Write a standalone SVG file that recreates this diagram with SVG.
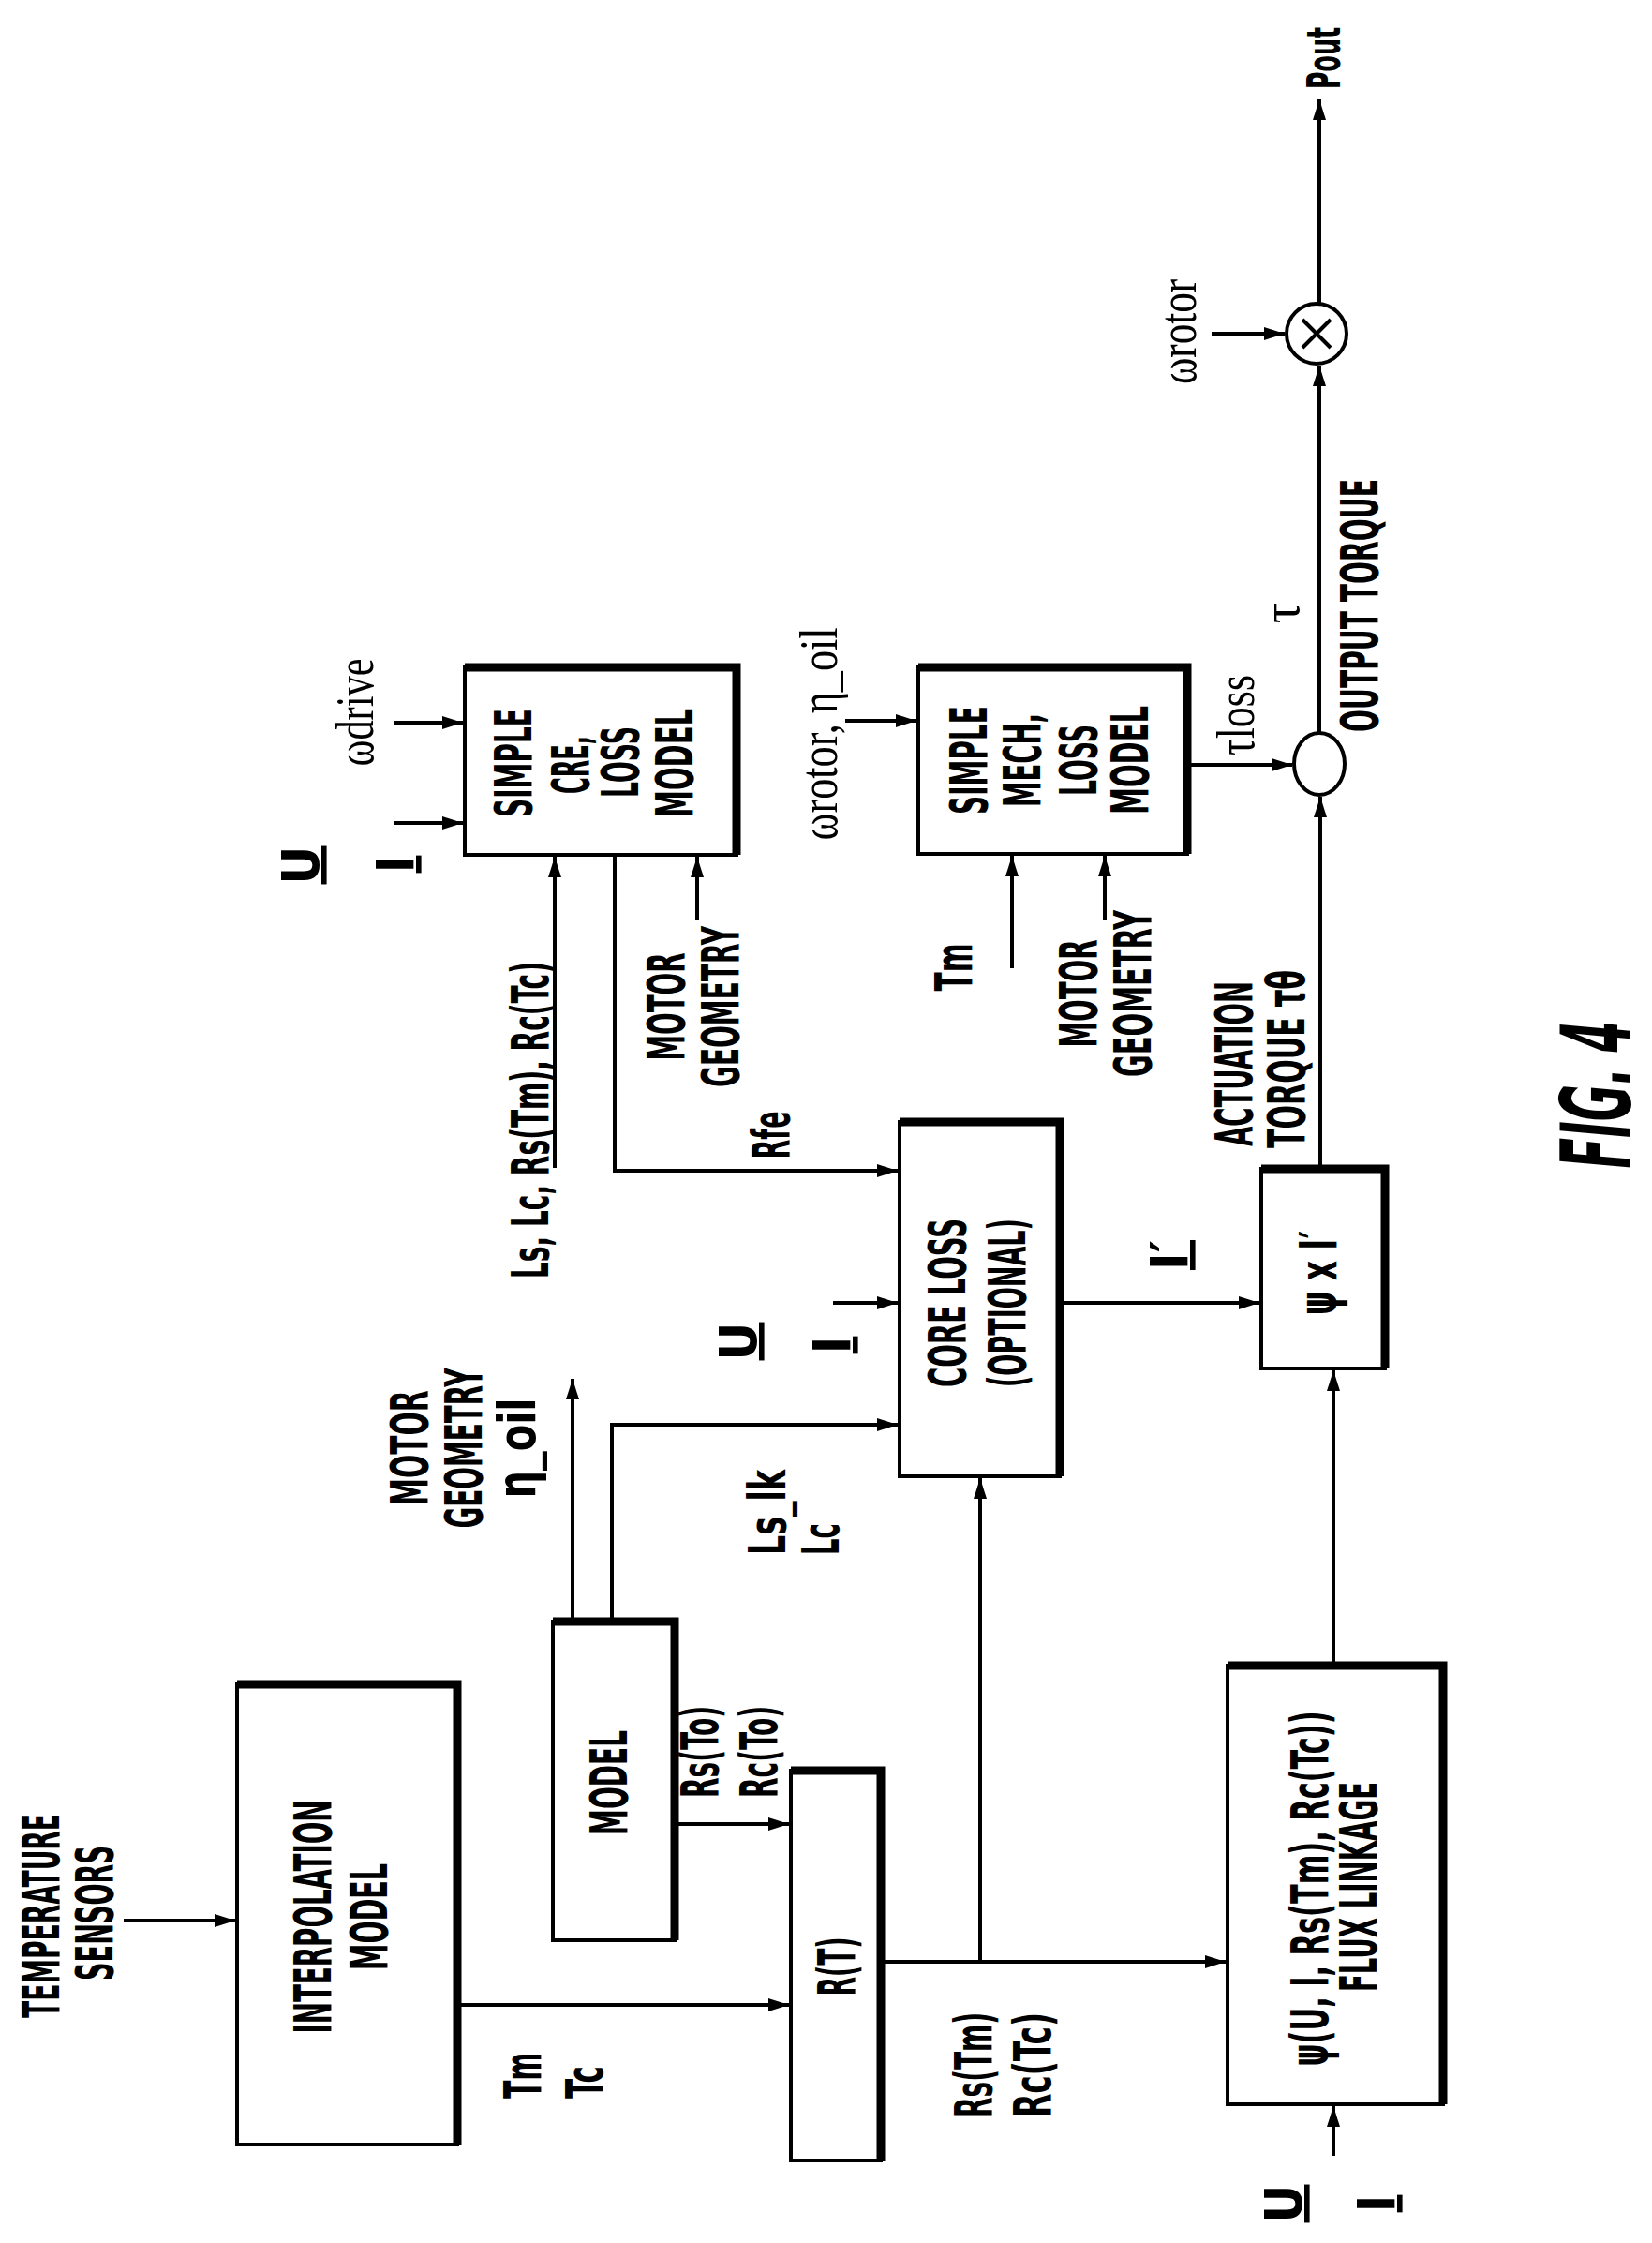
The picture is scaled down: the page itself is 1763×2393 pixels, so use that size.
<svg xmlns="http://www.w3.org/2000/svg" width="1763" height="2393" viewBox="0 0 1763 2393">
<style>
.b{fill:#fff;stroke:#000;stroke-width:4}
.t{stroke:#000;stroke-width:9;fill:none}
.c{stroke:#000;stroke-width:4;fill:none}
text{font-family:"Liberation Sans Narrow","DejaVu Sans Condensed","Liberation Sans",sans-serif;font-weight:bold;font-size:56px;fill:#000;text-anchor:middle}
.r{font-weight:normal;font-family:"Liberation Serif","DejaVu Serif",serif}
.s{text-anchor:start}
.u{text-decoration:underline}
</style>
<defs>
<marker id="a" markerUnits="userSpaceOnUse" markerWidth="24" markerHeight="16" refX="22" refY="8" orient="auto"><path d="M0,1 L22,8 L0,15 Z" fill="#000"/></marker>
</defs>
<rect width="1763" height="2393" fill="#fff"/>

<g id="connectors" class="c" marker-end="url(#a)">
<path d="M132,2049 H251"/>
<path d="M488,2139 H842"/>
<path d="M720,1946 H842"/>
<path d="M611,1730 V1471"/>
<path d="M653,1730 V1520 H958"/>
<path d="M940,2093 H1308"/>
<path d="M1046,2093 V1577"/>
<path d="M1423,2300 V2247"/>
<path d="M1423,1777 V1462"/>
<path d="M592,1246 V914"/>
<path d="M656,912 V1249 H958"/>
<path d="M744,982 V914"/>
<path d="M421,771 H494"/>
<path d="M421,878 H494"/>
<path d="M889,1390 H958"/>
<path d="M1131,1390 H1344"/>
<path d="M1409,1247 V850"/>
<path d="M902,769 H978"/>
<path d="M1080,1033 V913"/>
<path d="M1179,982 V913"/>
<path d="M1267,816 H1379"/>
<path d="M1408,782 V390"/>
<path d="M1293,356 H1371"/>
<path d="M1408,324 V106"/>
</g>

<g id="interp"><rect class="b" x="253" y="1797" width="235" height="491"/><path class="t" d="M253,1797 H488 V2288"/>
<text transform="translate(353,2045) rotate(-90)" textLength="249" lengthAdjust="spacingAndGlyphs">INTERPOLATION</text>
<text transform="translate(413,2045) rotate(-90)" textLength="114" lengthAdjust="spacingAndGlyphs">MODEL</text></g>

<g id="model"><rect class="b" x="590" y="1730" width="130" height="340"/><path class="t" d="M590,1730 H720 V2070"/>
<text transform="translate(669,1902) rotate(-90)" textLength="112" lengthAdjust="spacingAndGlyphs">MODEL</text></g>

<g id="rt"><rect class="b" x="844" y="1889" width="96" height="416"/><path class="t" d="M844,1889 H940 V2305"/>
<text transform="translate(912,2098) rotate(-90)" textLength="63" lengthAdjust="spacingAndGlyphs">R(T)</text></g>

<g id="cre"><rect class="b" x="496" y="712" width="290" height="200"/><path class="t" d="M496,712 H786 V912"/>
<text transform="translate(567,814) rotate(-90)" textLength="116" lengthAdjust="spacingAndGlyphs">SIMPLE</text>
<text transform="translate(628,816) rotate(-90)" textLength="62" lengthAdjust="spacingAndGlyphs">CRE,</text>
<text transform="translate(681,813) rotate(-90)" textLength="76" lengthAdjust="spacingAndGlyphs">LOSS</text>
<text transform="translate(739,814) rotate(-90)" textLength="116" lengthAdjust="spacingAndGlyphs">MODEL</text></g>

<g id="mech"><rect class="b" x="980" y="712" width="287" height="199"/><path class="t" d="M980,712 H1267 V911"/>
<text transform="translate(1053,811) rotate(-90)" textLength="116" lengthAdjust="spacingAndGlyphs">SIMPLE</text>
<text transform="translate(1110,811) rotate(-90)" textLength="100" lengthAdjust="spacingAndGlyphs">MECH,</text>
<text transform="translate(1170,811) rotate(-90)" textLength="76" lengthAdjust="spacingAndGlyphs">LOSS</text>
<text transform="translate(1225,811) rotate(-90)" textLength="116" lengthAdjust="spacingAndGlyphs">MODEL</text></g>

<g id="coreloss"><rect class="b" x="960" y="1197" width="171" height="378"/><path class="t" d="M960,1197 H1131 V1575"/>
<text transform="translate(1030,1390) rotate(-90)" textLength="180" lengthAdjust="spacingAndGlyphs">CORE LOSS</text>
<text transform="translate(1094,1390) rotate(-90)" textLength="180" lengthAdjust="spacingAndGlyphs">(OPTIONAL)</text></g>

<g id="psixi"><rect class="b" x="1346" y="1247" width="132" height="213"/><path class="t" d="M1346,1247 H1478 V1460"/>
<text transform="translate(1426,1358) rotate(-90)" textLength="90" lengthAdjust="spacingAndGlyphs">ψ x I′</text></g>

<g id="flux"><rect class="b" x="1310" y="1777" width="230" height="468"/><path class="t" d="M1310,1777 H1540 V2245"/>
<text transform="translate(1417,2015) rotate(-90)" textLength="379" lengthAdjust="spacingAndGlyphs">ψ(U, I, Rs(Tm), Rc(Tc))</text>
<text transform="translate(1469,2013) rotate(-90)" textLength="224" lengthAdjust="spacingAndGlyphs">FLUX LINKAGE</text></g>

<g id="sum"><ellipse class="c" cx="1408" cy="815" rx="27" ry="33"/></g>
<g id="mult"><circle class="c" cx="1405" cy="356" r="32"/><path class="c" d="M1390,341 L1420,371 M1420,341 L1390,371"/></g>

<g id="labels">
<text transform="translate(63,2044) rotate(-90)" textLength="218" lengthAdjust="spacingAndGlyphs">TEMPERATURE</text>
<text transform="translate(120,2041) rotate(-90)" textLength="144" lengthAdjust="spacingAndGlyphs">SENSORS</text>
<text class="s" transform="translate(577,2239) rotate(-90)" textLength="49" lengthAdjust="spacingAndGlyphs">Tm</text>
<text class="s" transform="translate(643,2239) rotate(-90)" textLength="35" lengthAdjust="spacingAndGlyphs">Tc</text>
<text class="s" transform="translate(766,1918) rotate(-90)" textLength="98" lengthAdjust="spacingAndGlyphs">Rs(To)</text>
<text class="s" transform="translate(829,1918) rotate(-90)" textLength="98" lengthAdjust="spacingAndGlyphs">Rc(To)</text>
<text transform="translate(456,1545) rotate(-90)" textLength="123" lengthAdjust="spacingAndGlyphs">MOTOR</text>
<text transform="translate(514,1545) rotate(-90)" textLength="171" lengthAdjust="spacingAndGlyphs">GEOMETRY</text>
<text transform="translate(571,1545) rotate(-90)" textLength="107" lengthAdjust="spacingAndGlyphs">η_oil</text>
<text class="s" transform="translate(838,1659) rotate(-90)" textLength="91" lengthAdjust="spacingAndGlyphs">Ls_lk</text>
<text class="s" transform="translate(895,1659) rotate(-90)" textLength="34" lengthAdjust="spacingAndGlyphs">Lc</text>
<text class="s" transform="translate(585,1364) rotate(-90)" textLength="338" lengthAdjust="spacingAndGlyphs">Ls, Lc, Rs(Tm), Rc(Tc)</text>
<text transform="translate(842,1211) rotate(-90)" textLength="51" lengthAdjust="spacingAndGlyphs">Rfe</text>
<text transform="translate(730,1074) rotate(-90)" textLength="115" lengthAdjust="spacingAndGlyphs">MOTOR</text>
<text transform="translate(788,1074) rotate(-90)" textLength="172" lengthAdjust="spacingAndGlyphs">GEOMETRY</text>
<text class="u" transform="translate(340,923) rotate(-90)">U</text>
<text class="u" transform="translate(441,922) rotate(-90)">I</text>
<text class="r" transform="translate(398,760) rotate(-90)" textLength="115" lengthAdjust="spacingAndGlyphs">ωdrive</text>
<text class="r" transform="translate(893,783) rotate(-90)" textLength="227" lengthAdjust="spacingAndGlyphs">ωrotor, η_oil</text>
<text transform="translate(1037,1032) rotate(-90)" textLength="51" lengthAdjust="spacingAndGlyphs">Tm</text>
<text transform="translate(1170,1060) rotate(-90)" textLength="115" lengthAdjust="spacingAndGlyphs">MOTOR</text>
<text transform="translate(1228,1060) rotate(-90)" textLength="178" lengthAdjust="spacingAndGlyphs">GEOMETRY</text>
<text class="u" transform="translate(807,1431) rotate(-90)">U</text>
<text class="u" transform="translate(907,1435) rotate(-90)">I</text>
<text class="u" transform="translate(1267,1339) rotate(-90)">I′</text>
<text transform="translate(1336,1135) rotate(-90)" textLength="176" lengthAdjust="spacingAndGlyphs">ACTUATION</text>
<text transform="translate(1392,1130) rotate(-90)" textLength="190" lengthAdjust="spacingAndGlyphs">TORQUE τθ</text>
<text class="r" transform="translate(1338,763) rotate(-90)" textLength="86" lengthAdjust="spacingAndGlyphs">τloss</text>
<text transform="translate(1470,646) rotate(-90)" textLength="270" lengthAdjust="spacingAndGlyphs">OUTPUT TORQUE</text>
<text class="r" transform="translate(1386,654) rotate(-90)">τ</text>
<text class="r" transform="translate(1276,354) rotate(-90)" textLength="112" lengthAdjust="spacingAndGlyphs">ωrotor</text>
<text transform="translate(1430,62) rotate(-90)" style="font-size:50px" textLength="66" lengthAdjust="spacingAndGlyphs">Pout</text>
<text class="s" transform="translate(1058,2259) rotate(-90)" textLength="112" lengthAdjust="spacingAndGlyphs">Rs(Tm)</text>
<text class="s" transform="translate(1121,2259) rotate(-90)" textLength="112" lengthAdjust="spacingAndGlyphs">Rc(Tc)</text>
<text class="u" transform="translate(1389,2351) rotate(-90)">U</text>
<text class="u" transform="translate(1488,2351) rotate(-90)">I</text>
<text transform="translate(1740,1168) rotate(-90)" style="font-style:italic;font-size:104px" textLength="157" lengthAdjust="spacingAndGlyphs">FIG. 4</text>
</g>
</svg>
